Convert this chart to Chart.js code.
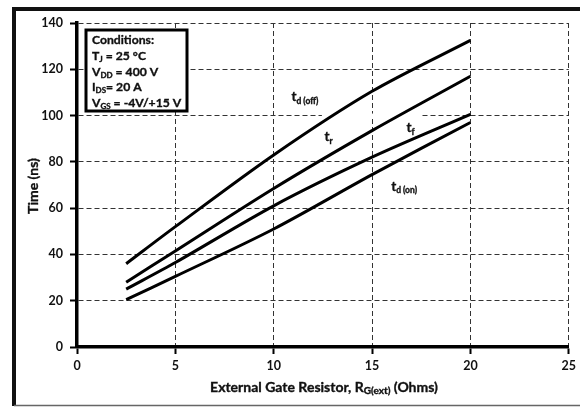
<!DOCTYPE html>
<html>
<head>
<meta charset="utf-8">
<script src="https://cdn.jsdelivr.net/npm/chart.js@4/dist/chart.umd.min.js"></script>
<style>
  html, body { margin: 0; padding: 0; background: #fff; }
  #chart { display: block; }
</style>
</head>
<body>
<canvas id="chart" width="580" height="407"></canvas>
<script>
// Datos (tiempo de conmutación vs resistencia de puerta)
const rgOhms = [2.5, 5, 10, 15, 20];
const tdOff  = [36, 52, 83, 110.5, 132.5];
const tRise  = [28, 41.5, 68.5, 93.5, 117];
const tFall  = [25, 36.5, 61, 82, 100.5];
const tdOn   = [20.5, 30.5, 51, 74.5, 97];

const xTicks = [0, 5, 10, 15, 20, 25];
const yTicks = [0, 20, 40, 60, 80, 100, 120, 140];

const FONT = 'Lato, "Open Sans", sans-serif';
const INK = '#111';

function toPoints(ys) {
  return rgOhms.map((x, i) => ({ x: x, y: ys[i] }));
}

// Dibuja texto con subíndices: parts = [[texto, esSub], ...]
function drawRich(ctx, parts, x, y, size, subSize) {
  let cx = x;
  parts.forEach(([txt, sub]) => {
    ctx.font = 'bold ' + (sub ? subSize : size) + 'px ' + FONT;
    const ty = sub ? y + size * 0.28 : y;
    ctx.fillText(txt, cx, ty);
    ctx.strokeText(txt, cx, ty); // engrosar un poco el trazo
    cx += ctx.measureText(txt).width;
  });
  return cx - x;
}

function measureRich(ctx, parts, size, subSize) {
  let w = 0;
  parts.forEach(([txt, sub]) => {
    ctx.font = 'bold ' + (sub ? subSize : size) + 'px ' + FONT;
    w += ctx.measureText(txt).width;
  });
  return w;
}

const decorPlugin = {
  id: 'decor',
  beforeDraw(chart) {
    const ctx = chart.ctx;
    ctx.save();
    ctx.fillStyle = '#fff';
    ctx.fillRect(0, 0, chart.width, chart.height);
    // marco exterior
    ctx.strokeStyle = '#111';
    ctx.lineWidth = 4;
    ctx.beginPath();
    ctx.moveTo(14, 406);
    ctx.lineTo(14, 9);
    ctx.lineTo(600, 9);
    ctx.stroke();
    ctx.strokeStyle = '#666';
    ctx.lineWidth = 1.5;
    ctx.beginPath();
    ctx.moveTo(14, 405.5);
    ctx.lineTo(600, 405.5);
    ctx.stroke();
    ctx.restore();
  },
  beforeDatasetsDraw(chart) {
    // hueco de la rejilla detrás de las etiquetas
    const ctx = chart.ctx;
    const xs = chart.scales.x, ys = chart.scales.y;
    ctx.save();
    ctx.fillStyle = '#fff';
    const y100 = ys.getPixelForValue(100);
    ctx.fillRect(xs.getPixelForValue(12.45), y100 - 2, xs.getPixelForValue(17.5) - xs.getPixelForValue(12.45), 4);
    ctx.restore();
  },
  afterDraw(chart) {
    const ctx = chart.ctx;
    const xs = chart.scales.x, ys = chart.scales.y;
    ctx.save();
    ctx.fillStyle = INK;
    ctx.strokeStyle = INK;
    ctx.lineWidth = 0.35;
    ctx.textBaseline = 'middle';

    // título eje Y
    ctx.save();
    ctx.translate(33, 186);
    ctx.rotate(-Math.PI / 2);
    ctx.textAlign = 'center';
    ctx.font = 'bold 14px ' + FONT;
    ctx.fillText('Time (ns)', 0, 0);
    ctx.strokeText('Time (ns)', 0, 0);
    ctx.restore();

    // título eje X
    const xParts = [['External Gate Resistor, R', 0], ['G(ext)', 1], [' (Ohms)', 0]];
    const wx = measureRich(ctx, xParts, 14, 10);
    ctx.textAlign = 'left';
    drawRich(ctx, xParts, 324 - wx / 2, 387, 14, 10);

    // cuadro de condiciones
    ctx.save();
    ctx.strokeStyle = '#000';
    ctx.lineWidth = 3;
    ctx.fillStyle = '#fff';
    ctx.fillRect(86, 30, 101, 81);
    ctx.strokeRect(86, 30, 101, 81);
    ctx.restore();
    const cond = [
      [['Conditions:', 0]],
      [['T', 0], ['J', 1], [' = 25 °C', 0]],
      [['V', 0], ['DD', 1], [' = 400 V', 0]],
      [['I', 0], ['DS', 1], ['= 20 A', 0]],
      [['V', 0], ['GS', 1], [' = -4V/+15 V', 0]]
    ];
    const condY = [40, 56, 72, 87, 103];
    cond.forEach((parts, i) => drawRich(ctx, parts, 92, condY[i], 12.2, 8));

    // etiquetas de curvas
    const labels = [
      { x: 10.9, y: 108, sub: 'd (off)' },
      { x: 12.58, y: 90.7, sub: 'r' },
      { x: 16.75, y: 94.6, sub: 'f' },
      { x: 15.97, y: 69.5, sub: 'd (on)' }
    ];
    labels.forEach(l => {
      drawRich(ctx, [['t', 0], [l.sub, 1]], xs.getPixelForValue(l.x), ys.getPixelForValue(l.y), 13.5, 8.5);
    });
    ctx.restore();
  }
};

const lineStyle = {
  borderColor: '#000',
  borderWidth: 3,
  pointRadius: 0,
  fill: false,
  tension: 0.3,
  borderCapStyle: 'butt'
};

new Chart(document.getElementById('chart'), {
  type: 'line',
  data: {
    datasets: [
      { label: 'td(off)', data: toPoints(tdOff), ...lineStyle },
      { label: 'tr', data: toPoints(tRise), ...lineStyle },
      { label: 'tf', data: toPoints(tFall), ...lineStyle },
      { label: 'td(on)', data: toPoints(tdOn), ...lineStyle }
    ]
  },
  options: {
    responsive: false,
    animation: false,
    layout: { padding: { top: 23, right: 10, left: 0, bottom: 0 } },
    plugins: {
      legend: { display: false },
      tooltip: { enabled: false }
    },
    scales: {
      x: {
        type: 'linear',
        min: 0,
        max: 25,
        afterBuildTicks: s => { s.ticks = xTicks.map(v => ({ value: v })); },
        afterFit: s => { s.height = 60; },
        ticks: { color: INK, padding: 4, font: { family: FONT, weight: 'bold', size: 12.5 } },
        grid: { color: '#333', lineWidth: 1, tickLength: 7, tickColor: '#000', tickWidth: 2 },
        border: { display: true, color: '#000', width: 3.5, dash: [5, 3] }
      },
      y: {
        type: 'linear',
        min: 0,
        max: 140,
        afterBuildTicks: s => { s.ticks = yTicks.map(v => ({ value: v })); },
        afterFit: s => { s.width = 77; },
        ticks: { color: INK, padding: 7, font: { family: FONT, weight: 'bold', size: 12.5 } },
        grid: { color: '#333', lineWidth: 1, tickLength: 7, tickColor: '#000', tickWidth: 2 },
        border: { display: true, color: '#000', width: 3.5, dash: [5, 3] }
      }
    }
  },
  plugins: [decorPlugin]
});
</script>
</body>
</html>
